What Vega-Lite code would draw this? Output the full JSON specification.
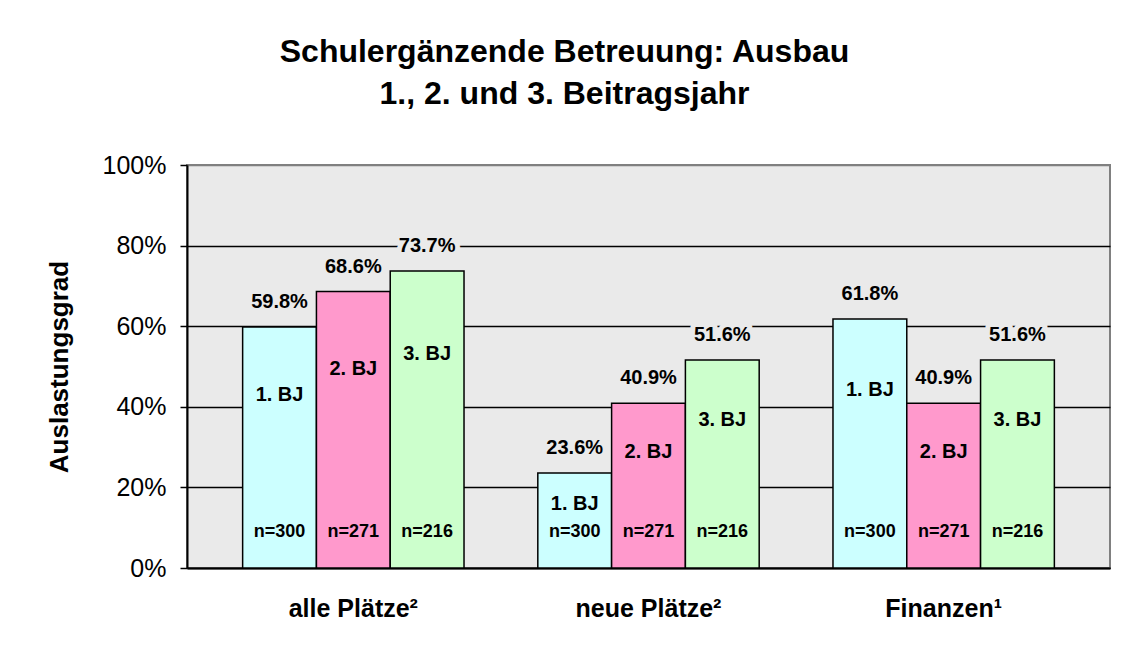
{
  "$schema": "https://vega.github.io/schema/vega-lite/v6.json",
  "autosize": {"type": "none"},
  "width": 923,
  "height": 403,
  "padding": {"left": 187, "top": 165, "right": 18, "bottom": 98},
  "background": "white",
  "config": {
    "font": "Liberation Sans",
    "view": {"fill": "#EAEAEA", "stroke": "#808080", "strokeWidth": 2},
    "axis": {"labelFont": "Liberation Sans", "titleFont": "Liberation Sans"}
  },
  "title": {
    "text": ["Schulergänzende Betreuung: Ausbau", "1., 2. und 3. Beitragsjahr"],
    "font": "Liberation Sans",
    "fontSize": 32,
    "fontWeight": "bold",
    "lineHeight": 42,
    "color": "black",
    "anchor": "middle",
    "dx": -84,
    "offset": 42
  },
  "data": {
    "values": [
      {"group": "alle Plätze²", "bj": "1. BJ", "value": 0.598, "n": "n=300"},
      {"group": "alle Plätze²", "bj": "2. BJ", "value": 0.686, "n": "n=271"},
      {"group": "alle Plätze²", "bj": "3. BJ", "value": 0.737, "n": "n=216"},
      {"group": "neue Plätze²", "bj": "1. BJ", "value": 0.236, "n": "n=300"},
      {"group": "neue Plätze²", "bj": "2. BJ", "value": 0.409, "n": "n=271"},
      {"group": "neue Plätze²", "bj": "3. BJ", "value": 0.516, "n": "n=216"},
      {"group": "Finanzen¹", "bj": "1. BJ", "value": 0.618, "n": "n=300"},
      {"group": "Finanzen¹", "bj": "2. BJ", "value": 0.409, "n": "n=271"},
      {"group": "Finanzen¹", "bj": "3. BJ", "value": 0.516, "n": "n=216"}
    ]
  },
  "encoding": {
    "x": {
      "field": "group",
      "type": "nominal",
      "sort": ["alle Plätze²", "neue Plätze²", "Finanzen¹"],
      "scale": {"paddingInner": 0, "paddingOuter": 0.0635},
      "axis": {
        "title": null,
        "labelAngle": 0,
        "labelFontSize": 25,
        "labelFontWeight": "bold",
        "labelColor": "black",
        "labelPadding": 28,
        "labelDx": 15,
        "ticks": false,
        "domainColor": "black",
        "domainWidth": 2
      }
    },
    "xOffset": {
      "field": "bj",
      "type": "nominal",
      "sort": ["1. BJ", "2. BJ", "3. BJ"],
      "scale": {"paddingInner": 0, "paddingOuter": 0.5}
    }
  },
  "layer": [
    {
      "layer": [
        {
          "mark": {"type": "bar", "stroke": "black", "strokeWidth": 1.5},
          "encoding": {
            "y": {
              "field": "value",
              "type": "quantitative",
              "scale": {"domain": [0, 1], "nice": false},
              "axis": {
                "title": "Auslastungsgrad",
                "titleFontSize": 26,
                "titleFontWeight": "bold",
                "titleColor": "black",
                "titlePadding": 30,
                "format": ".0%",
                "values": [0, 0.2, 0.4, 0.6, 0.8, 1],
                "labelFontSize": 25,
                "labelColor": "black",
                "labelPadding": 14,
                "tickSize": 7,
                "tickColor": "black",
                "tickWidth": 1.5,
                "domainColor": "black",
                "domainWidth": 2,
                "grid": true,
                "gridColor": {"condition": {"test": "datum.value === 1", "value": "#808080"}, "value": "black"},
                "gridWidth": 1.5
              }
            },
            "color": {
              "field": "bj",
              "type": "nominal",
              "scale": {"domain": ["1. BJ", "2. BJ", "3. BJ"], "range": ["#CCFFFF", "#FF99CC", "#CCFFCC"]},
              "legend": null
            }
          }
        },
        {
          "mark": {"type": "text", "fontSize": 20, "fontWeight": "bold", "baseline": "middle", "dy": -25, "stroke": "#EAEAEA", "strokeWidth": 10, "strokeJoin": "round", "fill": "#EAEAEA"},
          "encoding": {
            "y": {"field": "value", "type": "quantitative"},
            "text": {"field": "value", "type": "quantitative", "format": ".1%"}
          }
        },
        {
          "mark": {"type": "text", "fontSize": 20, "fontWeight": "bold", "baseline": "middle", "dy": -25, "color": "black"},
          "encoding": {
            "y": {"field": "value", "type": "quantitative"},
            "text": {"field": "value", "type": "quantitative", "format": ".1%"}
          }
        },
        {
          "mark": {"type": "text", "fontSize": 18, "fontWeight": "bold", "baseline": "middle", "color": "black"},
          "encoding": {
            "y": {"datum": 0.09, "type": "quantitative"},
            "text": {"field": "n", "type": "nominal"}
          }
        }
      ]
    },
    {
      "mark": {"type": "text", "fontSize": 20, "fontWeight": "bold", "baseline": "middle", "dy": 6, "color": "black"},
      "encoding": {
        "y": {"field": "value", "type": "quantitative", "scale": {"domain": [0, 1.35], "nice": false}, "axis": null},
        "text": {"field": "bj", "type": "nominal"}
      }
    }
  ],
  "resolve": {"scale": {"y": "independent"}}
}
